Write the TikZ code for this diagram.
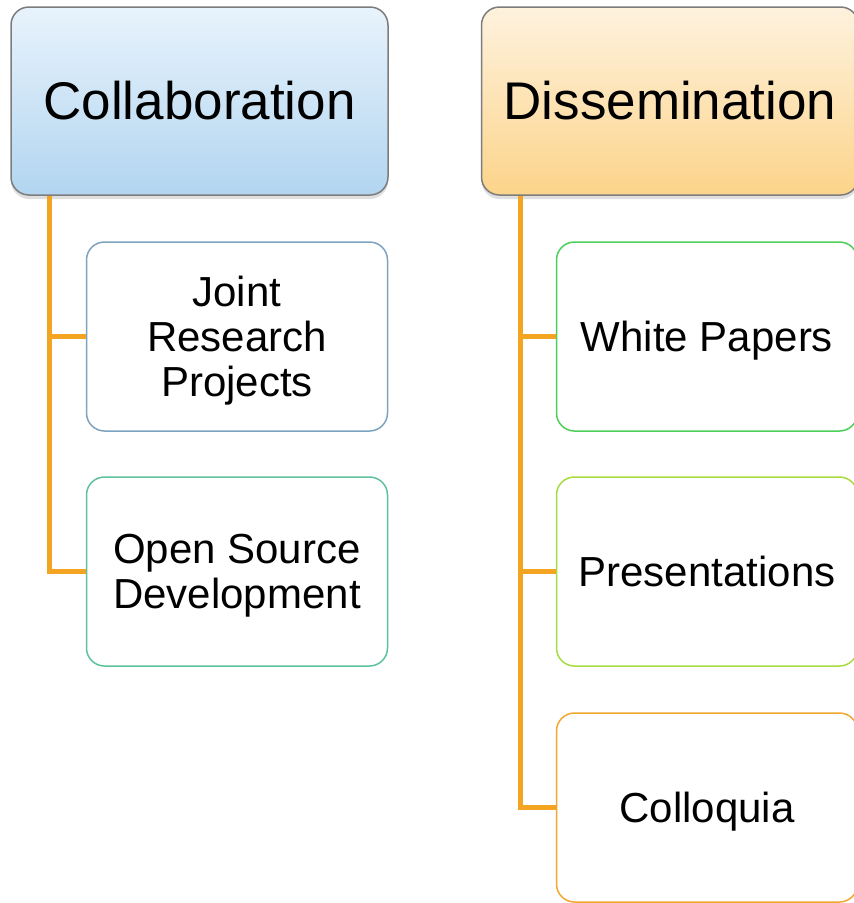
\documentclass[tikz,border=0pt]{standalone}
\usepackage{fontspec}
\setmainfont{Liberation Sans}
\usetikzlibrary{shadows}
\definecolor{conn}{RGB}{243,164,33}
\definecolor{hdrborder}{RGB}{125,125,125}
\definecolor{blueTop}{RGB}{232,243,252}
\definecolor{blueBot}{RGB}{178,213,240}
\definecolor{orTop}{RGB}{254,242,222}
\definecolor{orBot}{RGB}{252,212,138}
\definecolor{cJoint}{RGB}{125,163,192}
\definecolor{cOpen}{RGB}{94,194,156}
\definecolor{cWhite}{RGB}{76,208,90}
\definecolor{cPres}{RGB}{166,220,66}
\definecolor{cColl}{RGB}{240,168,48}
\tikzset{
  header/.style={draw=hdrborder, line width=1.5pt, rounded corners=18pt,
    minimum width=377pt, minimum height=188pt, inner sep=0pt,
    font=\fontsize{53}{60}\selectfont,
    drop shadow={opacity=0.25, shadow xshift=0pt, shadow yshift=-4pt}},
  child/.style={draw, line width=1.5pt, rounded corners=18pt, fill=white,
    minimum width=301pt, minimum height=189pt, inner sep=0pt, text depth=0pt,
    align=center, font=\fontsize{42}{45}\selectfont},
  connline/.style={draw=conn, line width=5pt}
}
\begin{document}
\begin{tikzpicture}[x=1pt,y=-1pt]
\clip (0,0) rectangle (854,903);
\fill[white] (0,0) rectangle (854,903);
% headers
\node[header, top color=blueTop, bottom color=blueBot] (collab) at (199.5,101) {Collaboration};
\node[header, top color=orTop, bottom color=orBot] (diss) at (670,101) {Dissemination};
% children
\node[child, draw=cJoint] (jr) at (237,336.5) {Joint\\Research\\Projects};
\node[child, draw=cOpen] (os) at (237,571.5) {Open Source\\Development};
\node[child, draw=cWhite] (wp) at (707,336.5) {White Papers};
\node[child, draw=cPres] (pr) at (707,571.5) {Presentations};
\node[child, draw=cColl] (co) at (707,807.5) {Colloquia};
% connectors
\coordinate (lx) at (49.5,0);
\coordinate (rx) at (520,0);
\draw[connline] (collab.south -| lx) |- (os.west);
\draw[connline] (lx |- jr.west) -- (jr.west);
\draw[connline] (diss.south -| rx) |- (co.west);
\draw[connline] (rx |- wp.west) -- (wp.west);
\draw[connline] (rx |- pr.west) -- (pr.west);
\end{tikzpicture}
\end{document}
